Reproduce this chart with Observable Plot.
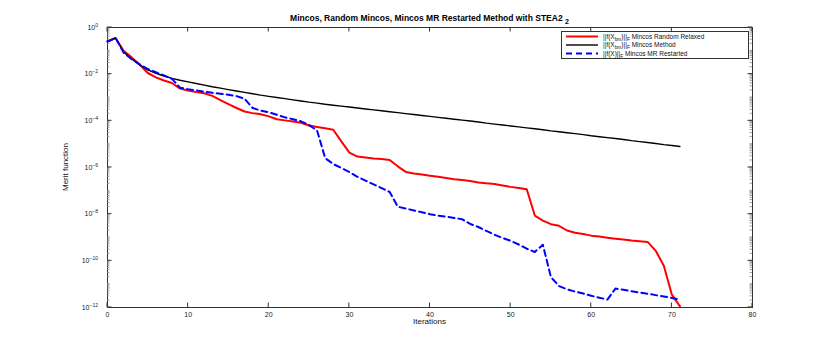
<!DOCTYPE html>
<html>
<head>
<meta charset="utf-8">
<script src="https://cdn.jsdelivr.net/npm/d3@7"></script>
<script src="https://cdn.jsdelivr.net/npm/@observablehq/plot@0.6"></script>
<style>
  body { margin: 0; background: #fff; }
  #chart { width: 830px; height: 346px; }
</style>
</head>
<body>
<div id="chart"></div>
<script>
// Iteration index (x) shared by all series
const iterations = [0,1,2,3,4,5,6,7,8,9,10,11,12,13,14,15,16,17,18,19,20,21,22,23,24,25,26,27,28,29,30,31,32,33,34,35,36,37,38,39,40,41,42,43,44,45,46,47,48,49,50,51,52,53,54,55,56,57,58,59,60,61,62,63,64,65,66,67,68,69,70,71];

// Merit function values, stored as log10 exponents
const randomRelaxedLog10 = [-0.6,-0.45,-1.0,-1.28,-1.6,-1.95,-2.14,-2.27,-2.38,-2.62,-2.7,-2.77,-2.82,-2.93,-3.11,-3.28,-3.45,-3.6,-3.67,-3.72,-3.81,-3.93,-3.98,-4.03,-4.08,-4.2,-4.26,-4.32,-4.38,-4.88,-5.36,-5.53,-5.57,-5.61,-5.64,-5.68,-5.95,-6.19,-6.26,-6.3,-6.35,-6.4,-6.45,-6.5,-6.54,-6.58,-6.64,-6.68,-6.71,-6.77,-6.83,-6.88,-6.93,-8.06,-8.28,-8.43,-8.5,-8.7,-8.8,-8.85,-8.92,-8.96,-9.01,-9.05,-9.09,-9.13,-9.16,-9.19,-9.57,-10.21,-11.45,-11.95];
const mincosLog10 = [-0.6,-0.45,-1.05,-1.35,-1.6,-1.82,-1.96,-2.08,-2.18,-2.26,-2.33,-2.4,-2.47,-2.54,-2.6,-2.66,-2.72,-2.78,-2.84,-2.9,-2.95,-3.0,-3.05,-3.1,-3.15,-3.2,-3.24,-3.29,-3.33,-3.37,-3.41,-3.45,-3.49,-3.53,-3.57,-3.61,-3.65,-3.69,-3.73,-3.77,-3.81,-3.85,-3.89,-3.93,-3.97,-4.01,-4.05,-4.1,-4.14,-4.18,-4.22,-4.26,-4.3,-4.34,-4.38,-4.43,-4.47,-4.51,-4.55,-4.59,-4.64,-4.68,-4.72,-4.76,-4.8,-4.85,-4.89,-4.93,-4.97,-5.02,-5.06,-5.1];
const restartedLog10 = [-0.6,-0.45,-1.08,-1.36,-1.58,-1.78,-1.92,-2.05,-2.2,-2.58,-2.65,-2.7,-2.75,-2.8,-2.84,-2.88,-2.94,-3.05,-3.45,-3.56,-3.63,-3.74,-3.85,-3.93,-4.02,-4.18,-4.42,-5.6,-5.85,-6.02,-6.2,-6.4,-6.56,-6.72,-6.88,-7.05,-7.68,-7.76,-7.84,-7.92,-8.0,-8.06,-8.11,-8.16,-8.22,-8.42,-8.55,-8.72,-8.88,-9.02,-9.14,-9.3,-9.48,-9.62,-9.31,-10.7,-11.08,-11.22,-11.32,-11.4,-11.5,-11.58,-11.66,-11.19,-11.24,-11.3,-11.36,-11.41,-11.47,-11.53,-11.59,-11.66];

// Axis ticks and labels
const xTicks = [0,10,20,30,40,50,60,70,80];
const yTicks = [1e-12,1e-10,1e-8,1e-6,1e-4,1e-2,1];
const yTickExponents = ["-12","-10","-8","-6","-4","-2","0"];

const titleMain = "Mincos, Random Mincos, Mincos MR Restarted Method with STEA2 ";
const titleSub = "2";
const xLabel = "Iterations";
const yLabel = "Merit function";

// minor ticks of the log axis (every decade, 1..9)
const minorYTicks = [];
for (let e = -12; e < 0; e++) for (let m = 1; m <= 9; m++) minorYTicks.push(m * Math.pow(10, e));

const toRows = (logs) => iterations.map((it, i) => ({it, v: Math.pow(10, logs[i])}));
const redRows = toRows(randomRelaxedLog10);
const blackRows = toRows(mincosLog10);
const blueRows = toRows(restartedLog10);

const font = "'Liberation Sans', Arial, Helvetica, sans-serif";
const axisColor = "#333";

const chart = Plot.plot({
  width: 830,
  height: 346,
  marginLeft: 107,
  marginRight: 78,
  marginTop: 27,
  marginBottom: 39,
  style: {fontFamily: font, fontSize: "7px", background: "#fff", color: axisColor},
  x: {domain: [0, 80], label: null},
  y: {type: "log", domain: [1e-12, 1], label: null},
  marks: [
    Plot.axisX({anchor: "bottom", ticks: xTicks, tickSize: 0, tickPadding: 5, tickFormat: d => String(d), fill: "#222"}),
    Plot.axisY({anchor: "left", ticks: [], tickSize: 0}),
    Plot.frame({stroke: axisColor}),
    Plot.line(redRows, {x: "it", y: "v", stroke: "#ff0000", strokeWidth: 2}),
    Plot.line(blackRows, {x: "it", y: "v", stroke: "#000000", strokeWidth: 1.4}),
    Plot.line(blueRows, {x: "it", y: "v", stroke: "#0000ff", strokeWidth: 2, strokeDasharray: "6,4"})
  ]
});

document.getElementById("chart").appendChild(chart);

const svg = d3.select(chart);
const xs = chart.scale("x"), ys = chart.scale("y");
const plotLeft = xs.range[0], plotRight = xs.range[1];
const plotTop = ys.range[1], plotBottom = ys.range[0];

// Inward ticks on all four sides (MATLAB box style), positioned through the plot's scales
const tk = svg.append("g").attr("fill", "none");
minorYTicks.forEach(t => {
  const y = ys.apply(t);
  tk.append("path").attr("d", `M${plotLeft},${y}h2.5M${plotRight},${y}h-2.5`).attr("stroke", "#888").attr("stroke-width", 0.8);
});
yTicks.forEach(t => {
  const y = ys.apply(t);
  tk.append("path").attr("d", `M${plotLeft},${y}h4.5M${plotRight},${y}h-4.5`).attr("stroke", axisColor);
});
xTicks.forEach(t => {
  const x = xs.apply(t);
  tk.append("path").attr("d", `M${x},${plotBottom}v-4.5M${x},${plotTop}v4.5`).attr("stroke", axisColor);
});

// Y tick labels: 10 with superscript exponent, placed through the plot's y scale
const yLab = svg.append("g").attr("font-family", font).attr("fill", "#222");
yTicks.forEach((t, i) => {
  const tx = yLab.append("text").attr("x", plotLeft - 9).attr("y", ys.apply(t) + 2.5)
    .attr("text-anchor", "end").attr("font-size", 7);
  tx.append("tspan").text("10");
  tx.append("tspan").attr("dy", -3).attr("font-size", 5).text(yTickExponents[i].replace("-", "\u2212"));
});

// Title
const title = svg.append("text")
  .attr("x", (plotLeft + plotRight) / 2).attr("y", 21)
  .attr("text-anchor", "middle")
  .attr("font-family", font).attr("font-size", 8.5).attr("font-weight", "bold").attr("fill", "#000");
title.append("tspan").text(titleMain);
title.append("tspan").attr("dy", 3).attr("font-size", 7).text(titleSub);

// Axis labels
svg.append("text")
  .attr("x", (plotLeft + plotRight) / 2).attr("y", 324)
  .attr("text-anchor", "middle")
  .attr("font-family", font).attr("font-size", 8).attr("fill", "#111")
  .text(xLabel);
svg.append("text")
  .attr("transform", `translate(68,${(plotTop + plotBottom) / 2}) rotate(-90)`)
  .attr("text-anchor", "middle")
  .attr("font-family", "'Liberation Sans Narrow', 'Liberation Sans', Arial, sans-serif").attr("font-size", 8).attr("fill", "#111")
  .text(yLabel);

// Legend
const legendEntries = [
  {color: "#ff0000", dash: null, width: 2, parts: [["||f(X", 0], ["bm", 1], [")||", 0], ["F", 1], [" Mincos Random Relaxed", 0]]},
  {color: "#000000", dash: null, width: 1.4, parts: [["||f(X", 0], ["bm", 1], [")||", 0], ["F", 1], [" Mincos Method", 0]]},
  {color: "#0000ff", dash: "6,4", width: 2, parts: [["||f(X)||", 0], ["F", 1], [" Mincos MR Restarted", 0]]}
];
const lg = svg.append("g");
lg.append("rect").attr("x", 561.5).attr("y", 31.5).attr("width", 187).attr("height", 27)
  .attr("fill", "#fff").attr("stroke", axisColor);
legendEntries.forEach((e, i) => {
  const y = 36.5 + i * 8.5;
  lg.append("line").attr("x1", 566).attr("x2", 598).attr("y1", y).attr("y2", y)
    .attr("stroke", e.color).attr("stroke-width", e.width).attr("stroke-dasharray", e.dash);
  const t = lg.append("text").attr("x", 603).attr("y", y + 2.3)
    .attr("text-anchor", "start")
    .attr("font-family", font).attr("font-size", 6.5).attr("fill", "#111");
  let sub = 0;
  e.parts.forEach(([s, isSub]) => {
    const ts = t.append("tspan").text(s);
    if (isSub !== sub) { ts.attr("dy", isSub ? 1.8 : -1.8); sub = isSub; }
    if (isSub) ts.attr("font-size", 4.8);
  });
});
</script>
</body>
</html>
